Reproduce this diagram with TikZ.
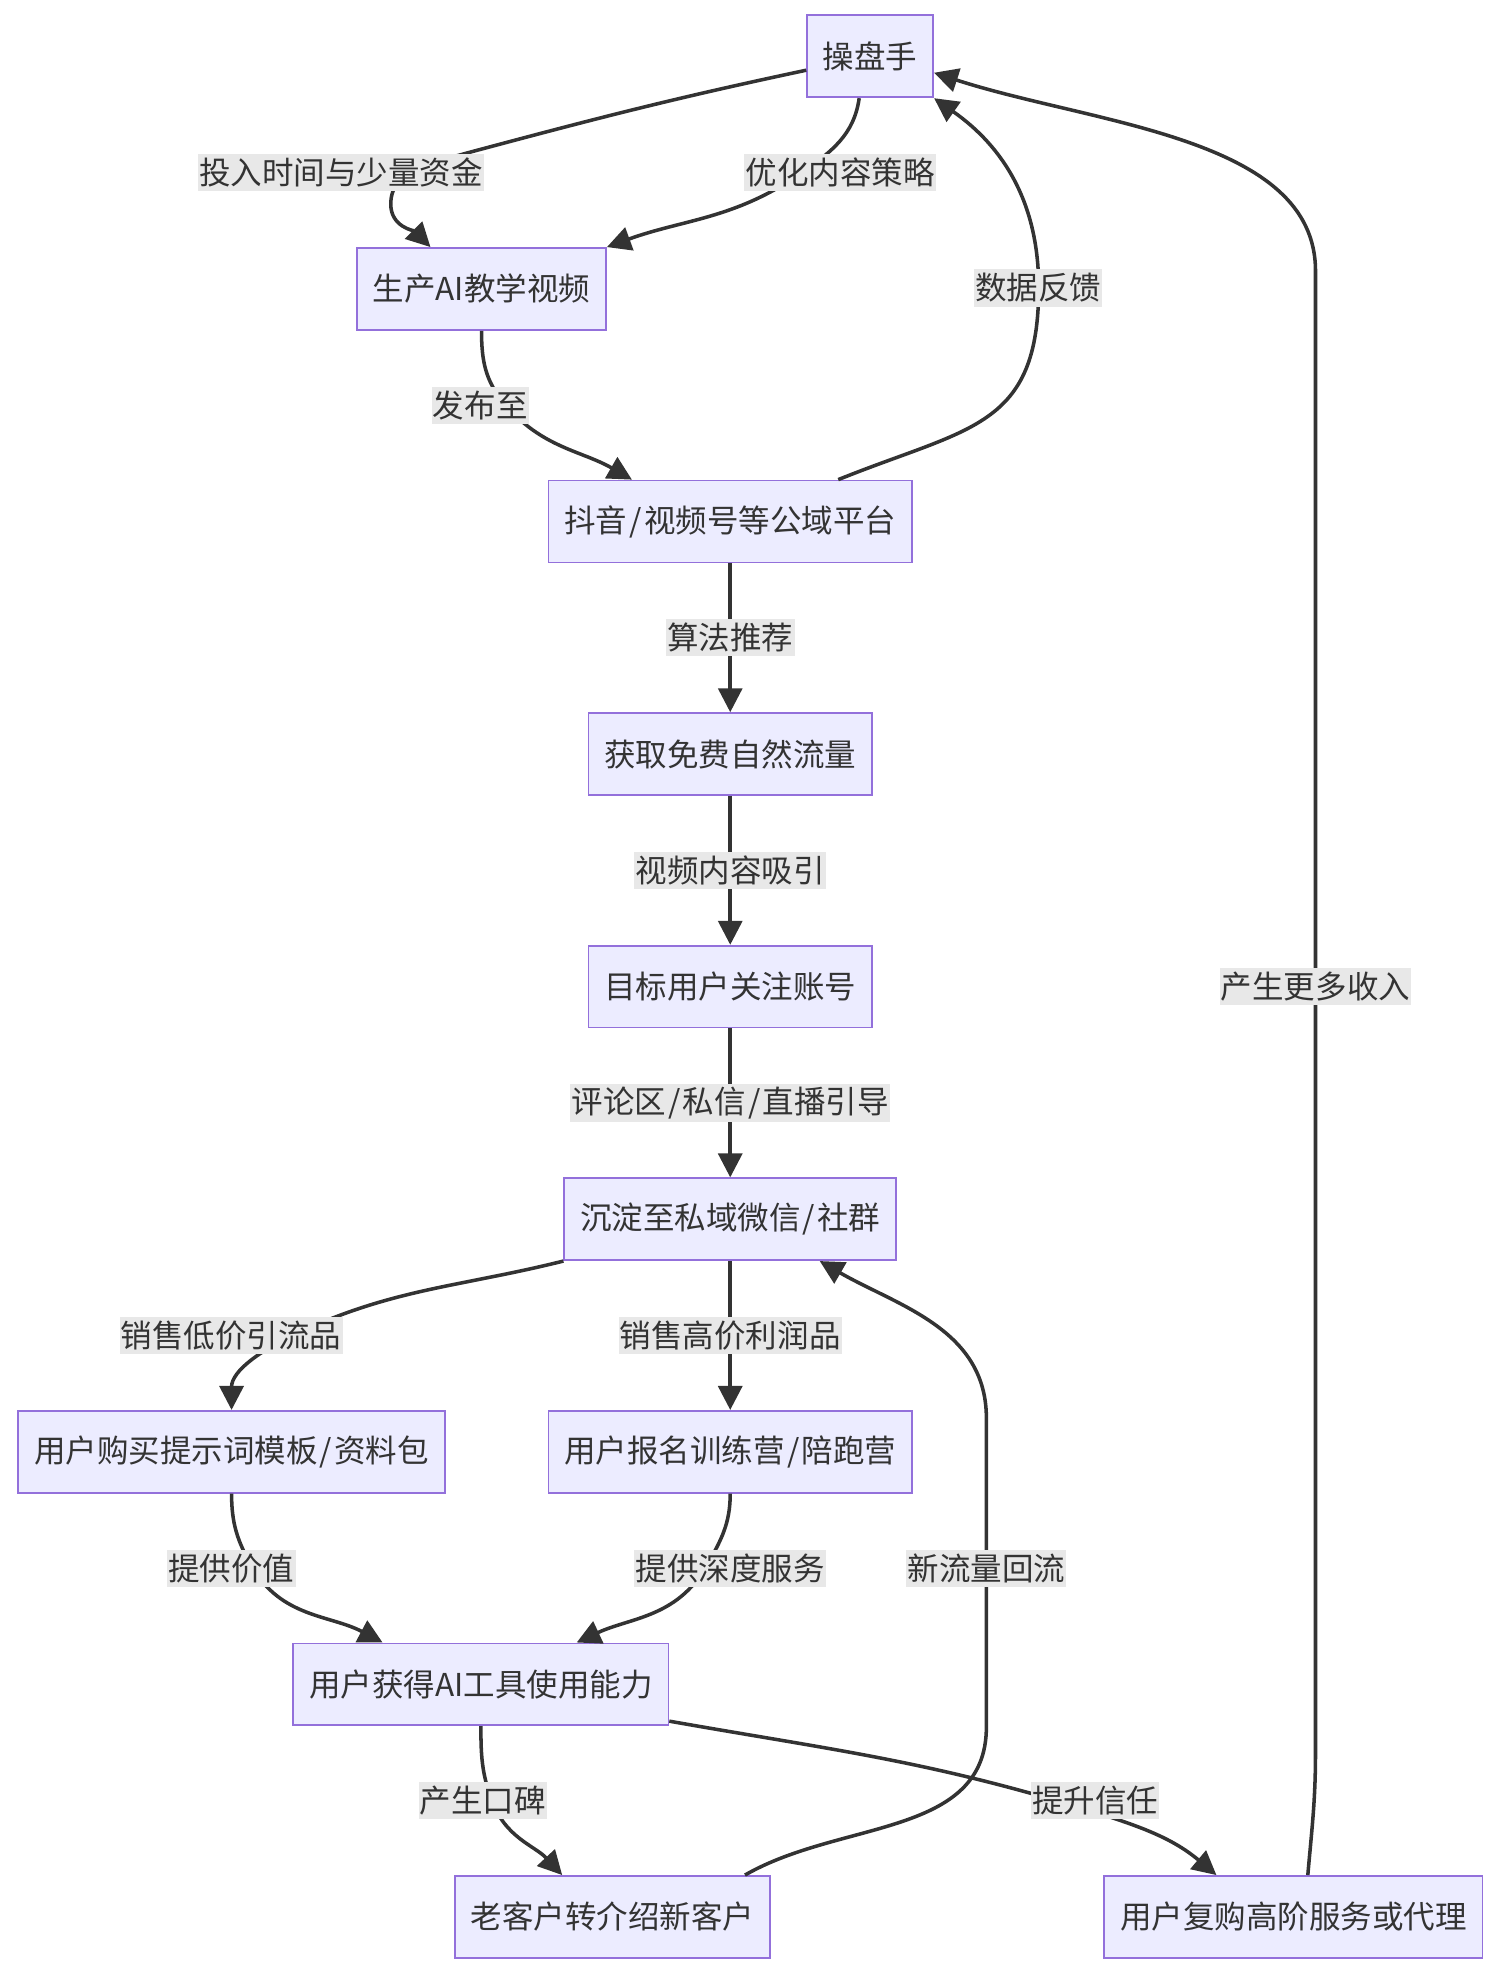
\documentclass[tikz,border=0pt]{standalone}
\usepackage{fontspec}
\setmainfont{Noto Sans CJK SC}
\usetikzlibrary{arrows.meta}
\definecolor{boxfill}{HTML}{ECECFF}
\definecolor{boxline}{HTML}{9370DB}
\definecolor{linkc}{HTML}{333333}
\definecolor{lblbg}{HTML}{E8E8E8}
\newcommand\pslash{\kern0.07em/\kern0.07em}

\begin{document}
\begin{tikzpicture}[x=1pt,y=1pt,
	box/.style={draw=boxline,fill=boxfill,line width=1.4pt,minimum height=65pt,inner xsep=12.5pt,text=linkc,font=\fontsize{25}{30}\selectfont},
	lbl/.style={fill=lblbg,inner xsep=1pt,inner ysep=0pt,minimum height=29.5pt,text=linkc,font=\fontsize{25}{30}\selectfont},
	link/.style={draw=linkc,line width=2.8pt,-{Triangle[length=19pt,width=19pt]}}]

	\useasboundingbox (0,0) rectangle (1190,-1566);

	\node[box] (op) at (690.3,-44.7) {操盘手};
	\node[box] (prod) at (382,-229.2) {生产AI教学视频};
	\node[box] (plat) at (579.3,-413.7) {抖音\pslash 视频号等公域平台};
	\node[box] (traffic) at (579.3,-598.2) {获取免费自然流量};
	\node[box] (fans) at (579.3,-782.7) {目标用户关注账号};
	\node[box] (priv) at (579.3,-967.2) {沉淀至私域微信\pslash 社群};
	\node[box] (tpl) at (183.7,-1151.7) {用户购买提示词模板\pslash 资料包};
	\node[box] (camp) at (579.3,-1151.7) {用户报名训练营\pslash 陪跑营};
	\node[box] (skill) at (381.5,-1336.2) {用户获得AI工具使用能力};
	\node[box] (refer) at (486,-1520.7) {老客户转介绍新客户};
	\node[box] (rebuy) at (1026,-1520.7) {用户复购高阶服务或代理};

	\coordinate (a1) at (370,-121.5);
	\coordinate (a2) at (310,-162);
	\coordinate (b1) at (636,-137);
	\coordinate (c1) at (400,-320);
	\coordinate (d1) at (824,-228);
	\coordinate (e1) at (1043.6,-1390);
	\coordinate (e2) at (1043.6,-215);
	\coordinate (f1) at (235,-1058);
	\coordinate (g1) at (200,-1243);
	\coordinate (h1) at (560,-1243);
	\coordinate (i1) at (390,-1428);
	\coordinate (j1) at (860,-1435);
	\coordinate (k1) at (782.5,-1370);
	\coordinate (k2) at (782.5,-1125);

	\draw[link] ([yshift=-11pt]op.west) to[out=192,in=15] (a1) to[out=196,in=90] (a2) to[out=-90,in=135] ([xshift=-40.5pt]prod.north);
	\draw[link] ([xshift=-8.7pt]op.south) to[out=-98,in=35] (b1) to[out=215,in=20] (prod.north east);
	\draw[link] (prod.south) to[out=-90,in=130] (c1) to[out=-50,in=150] ([xshift=-78pt]plat.north);
	\draw[link] ([xshift=85.7pt]plat.north) to[out=22,in=-90,looseness=1.3] (d1) to[out=90,in=-35] (op.south east);
	\draw[link] ([xshift=11.5pt]rebuy.north) to[out=85,in=-90] (e1) -- (e2) to[out=90,in=-18,out looseness=0.8] ([yshift=-13pt]op.east);
	\draw[link] (plat) -- (traffic);
	\draw[link] (traffic) -- (fans);
	\draw[link] (fans) -- (priv);
	\draw[link] (priv) -- (camp);
	\draw[link] (priv.south west) to[out=194,in=25] (f1) to[out=205,in=90] (tpl.north);
	\draw[link] (tpl.south) to[out=-90,in=120] (g1) to[out=-60,in=152] ([xshift=-78pt]skill.north);
	\draw[link] (camp.south) to[out=-90,in=60] (h1) to[out=240,in=25] ([xshift=76pt]skill.north);
	\draw[link] (skill.south) to[out=-90,in=110] (i1) to[out=-70,in=133] ([xshift=-40pt]refer.north);
	\draw[link] ([yshift=4pt]skill.south east) to[out=-10,in=163] (j1) to[out=-17,in=140] ([xshift=-61pt]rebuy.north);
	\draw[link] ([xshift=105pt]refer.north) to[out=30,in=-90] (k1) -- (k2) to[out=90,in=-30] ([xshift=71pt]priv.south);

	\node[lbl] (l1) at (270.5,-137) {投入时间与少量资金};
	\node[lbl] (l2) at (666.5,-137) {优化内容策略};
	\node[lbl] (l3) at (823.5,-228.5) {数据反馈};
	\node[lbl] (l4) at (381,-321.5) {发布至};
	\node[lbl] (l5) at (579.3,-506) {算法推荐};
	\node[lbl] (l6) at (579.3,-690.5) {视频内容吸引};
	\node[lbl] (l7) at (579.3,-875) {评论区\pslash 私信\pslash 直播引导};
	\node[lbl] (l8) at (183.4,-1059.5) {销售低价引流品};
	\node[lbl] (l9) at (579.3,-1059.5) {销售高价利润品};
	\node[lbl] (l10) at (183.5,-1244) {提供价值};
	\node[lbl] (l11) at (579.3,-1244) {提供深度服务};
	\node[lbl] (l12) at (782.5,-1244) {新流量回流};
	\node[lbl] (l13) at (383,-1428.5) {产生口碑};
	\node[lbl] (l14) at (868.7,-1428.5) {提升信任};
	\node[lbl] (l15) at (1043.6,-782.7) {产生更多收入};

\end{tikzpicture}
\end{document}
